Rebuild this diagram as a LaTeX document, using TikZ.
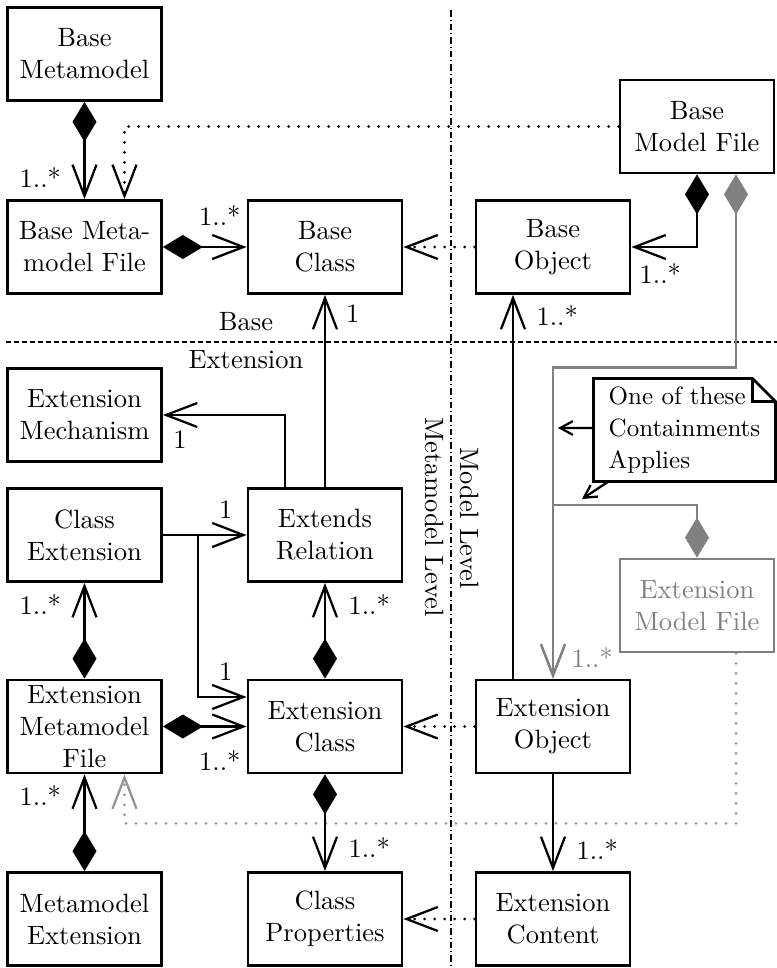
\documentclass[tikz,border=0pt]{standalone}
\usetikzlibrary{arrows.meta}

\tikzset{
  box/.style={draw, line width=1.1pt, minimum width=61.6pt, minimum height=37.2pt,
    align=center, inner sep=1pt},
  mult/.style={inner sep=1pt},
  comp/.style={line width=0.9pt,
    {Diamond[length=16pt,width=9.6pt]}-{Straight Barb[length=12.5pt,width=9.6pt]}},
  assoc/.style={line width=0.9pt, -{Straight Barb[length=12.5pt,width=9.6pt]}},
  dep/.style={line width=1.2pt, line cap=round, dash pattern=on 0pt off 4pt,
    -{Straight Barb[length=12.5pt,width=9.6pt,line width=0.9pt,line cap=butt]}},
  notearr/.style={line width=0.9pt, -{Straight Barb[length=5pt,width=5.5pt]}},
}

\begin{document}
\begin{tikzpicture}[x=0.4pt, y=-0.4pt, font=\fontsize{10.6pt}{12.8pt}\selectfont]
  \useasboundingbox (0,0) rectangle (777,968);

  % level separators
  \draw[line width=0.6pt, dash pattern=on 1.8pt off 1.4pt] (6,342) -- (777,342);
  \draw[line width=0.6pt, dash pattern=on 2.6pt off 1.2pt on 0.4pt off 1.2pt] (451,10) -- (451,968);
  \node (lbase) at (246,322) {Base};
  \node (lext)  at (246,360) {Extension};
  \node[rotate=-90] (lmodel) at (470,518) {Model Level};
  \node[rotate=-90] (lmeta)  at (435,517) {Metamodel Level};

  % metamodel level
  \node[box] (bmm)      at (84.5,54)    {Base\\Metamodel};
  \node[box] (bmmf)     at (84.5,247)   {Base Meta-\\model File};
  \node[box] (bclass)   at (325,247)    {Base\\Class};
  \node[box] (extmech)  at (84.5,415)   {Extension\\Mechanism};
  \node[box] (clext)    at (84.5,535)   {Class\\Extension};
  \node[box] (extrel)   at (325,535)    {Extends\\Relation};
  \node[box] (extmmf)   at (84.5,726.5) {Extension\\Metamodel\\File};
  \node[box] (extclass) at (325,726.5)  {Extension\\Class};
  \node[box] (mmext)    at (84.5,919)   {Metamodel\\Extension};
  \node[box] (clprops)  at (325,919)    {Class\\Properties};

  % model level
  \node[box] (bmodf)    at (697,126.5)  {Base\\Model File};
  \node[box] (bobj)     at (553,247)    {Base\\Object};
  \node[box] (extobj)   at (553,726.5)  {Extension\\Object};
  \node[box] (extcont)  at (553,919)    {Extension\\Content};
  \node[box, draw=gray, text=gray] (extmodf) at (697,605.5) {Extension\\Model File};

  % note
  \node[align=left, minimum width=72.4pt, minimum height=40.8pt, inner sep=0pt,
    font=\fontsize{10pt}{12.8pt}\selectfont]
    (note) at (684.5,430) {One of these\\Containments\\Applies};
  \draw[line width=1.1pt] (note.north west) -- ([xshift=-9.2pt]note.north east)
    -- ([yshift=-9.2pt]note.north east) -- (note.south east) -- (note.south west) -- cycle;
  \draw[line width=1.1pt] ([xshift=-9.2pt]note.north east) -- ([xshift=-9.2pt,yshift=-9.2pt]note.north east)
    -- ([yshift=-9.2pt]note.north east);
  \coordinate (nt1) at (558,428);
  \coordinate (nt2) at (582,499);
  \draw[notearr] ([yshift=0.8pt]note.west) -- (nt1);
  \draw[notearr] ([xshift=6pt]note.south west) -- (nt2);

  % gray containments
  \begin{scope}[gray]
    \draw[comp] ([xshift=15.6pt]bmodf.south) -- ++(0,193) -| (extobj.north);
    \draw[comp] (extmodf.north) -- ++(0,-53) -| (extobj.north)
      node[mult, pos=0.94, right=6pt] {1..*};
    \draw[dep, gray!85] ([xshift=15.6pt]extmodf.south) -- ++(0,170) -| ([xshift=16pt]extmmf.south);
  \end{scope}

  % base part
  \draw[comp] (bmm) -- (bmmf) node[mult, pos=0.78, left=8pt] {1..*};
  \draw[dep] (bmodf.west) -| ([xshift=16pt]bmmf.north);
  \draw[comp] (bmmf) -- (bclass) node[mult, pos=0.68, above=7pt] {1..*};
  \draw[dep] (bobj) -- (bclass);
  \draw[comp] (bmodf) |- (bobj) node[mult, pos=0.78, below=5pt] {1..*};

  % extension part
  \draw[assoc] ([xshift=-16pt]extobj.north) -- ([xshift=-16pt]bobj.south)
    node[mult, pos=0.945, right=8pt] {1..*};
  \draw[assoc] (extrel) -- (bclass) node[mult, pos=0.9, right=7pt] {1};
  \draw[assoc] ([xshift=-16pt]extrel.north) |- (extmech)
    node[mult, pos=0.93, below=5pt] {1};
  \draw[assoc] (clext) -- (extrel) node[mult, pos=0.75, above=5pt] {1};
  \draw[assoc] ([xshift=14pt]clext.east) |- ([yshift=11.8pt]extclass.west)
    node[mult, pos=0.785, above=5pt] {1};
  \draw[comp] (extmmf) -- (clext) node[mult, pos=0.77, left=8pt] {1..*};
  \draw[comp] (extmmf) -- (extclass) node[mult, pos=0.68, below=8pt] {1..*};
  \draw[comp] (extclass) -- (extrel) node[mult, pos=0.77, right=8pt] {1..*};
  \draw[comp] (mmext) -- (extmmf) node[mult, pos=0.78, left=8pt] {1..*};
  \draw[comp] (extclass) -- (clprops) node[mult, pos=0.76, right=8pt] {1..*};
  \draw[dep] (extobj) -- (extclass);
  \draw[assoc] (extobj) -- (extcont) node[mult, pos=0.78, right=8pt] {1..*};
  \draw[dep] (extcont) -- (clprops);
\end{tikzpicture}
\end{document}
